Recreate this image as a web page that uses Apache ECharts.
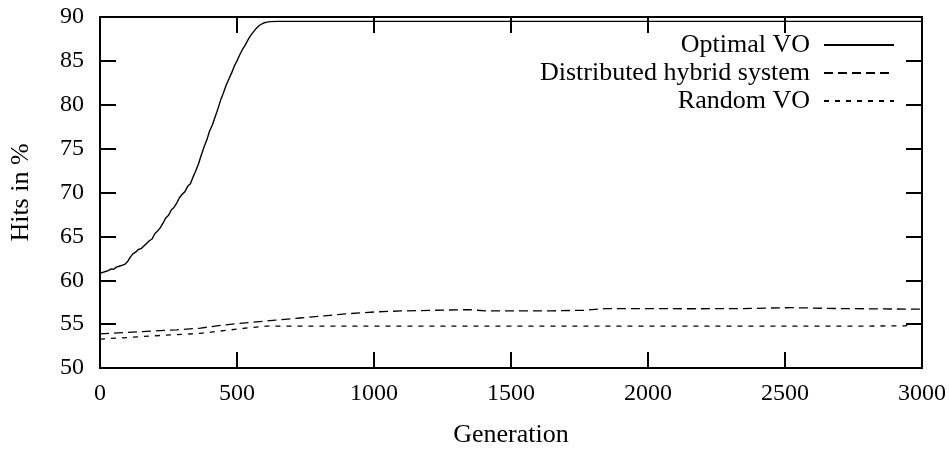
<!DOCTYPE html>
<html>
<head>
<meta charset="utf-8">
<script src="https://cdn.jsdelivr.net/npm/echarts@6/dist/echarts.min.js"></script>
<style>
html,body{margin:0;padding:0;background:#fff;}
#chart{width:949px;height:453px;}
</style>
</head>
<body>
<div id="chart"></div>
<script>
// Generation values and Hits (%) per series
const optimalGen  = [0, 10, 20, 30, 40, 50, 60, 70, 80, 90, 100, 110, 120, 130, 140, 150, 160, 170, 180, 190, 200, 210, 220, 230, 240, 250, 260, 270, 280, 290, 300, 310, 320, 330, 340, 350, 360, 370, 380, 390, 400, 410, 420, 430, 440, 450, 460, 470, 480, 490, 500, 510, 520, 530, 540, 550, 560, 570, 580, 590, 600, 610, 620, 650, 3000];
const optimalHits = [60.8, 60.9, 61.0, 61.1, 61.3, 61.25, 61.5, 61.6, 61.7, 61.8, 62.1, 62.6, 63.0, 63.2, 63.5, 63.6, 63.9, 64.2, 64.5, 64.7, 65.3, 65.6, 66.0, 66.5, 67.1, 67.4, 68.0, 68.3, 68.8, 69.4, 69.8, 70.1, 70.7, 71.0, 71.8, 72.5, 73.3, 74.3, 75.2, 76.0, 77.0, 77.7, 78.6, 79.5, 80.5, 81.3, 82.2, 82.9, 83.6, 84.4, 85.0, 85.7, 86.3, 86.8, 87.4, 87.9, 88.3, 88.7, 89.0, 89.2, 89.35, 89.42, 89.47, 89.5, 89.5];

const hybridGen  = [0, 100, 185, 280, 367, 450, 548, 640, 730, 820, 912, 1008, 1100, 1226, 1347, 1408, 1529, 1650, 1771, 1844, 2013, 2150, 2340, 2522, 2703, 3000];
const hybridHits = [53.9, 54.05, 54.2, 54.35, 54.55, 54.9, 55.2, 55.45, 55.7, 55.95, 56.2, 56.4, 56.5, 56.58, 56.65, 56.5, 56.5, 56.52, 56.58, 56.77, 56.77, 56.75, 56.77, 56.88, 56.77, 56.7];

const randomGen  = [0, 90, 185, 280, 367, 464, 548, 609, 800, 1200, 1600, 2000, 2400, 2800, 2940, 2960, 3000];
const randomHits = [53.3, 53.45, 53.65, 53.8, 53.95, 54.3, 54.6, 54.78, 54.78, 54.77, 54.78, 54.78, 54.78, 54.78, 54.8, 55.05, 55.05];

const seriesNames = ['Optimal VO', 'Distributed hybrid system', 'Random VO'];
const xTicks = [0, 500, 1000, 1500, 2000, 2500, 3000];
const yTicks = [50, 55, 60, 65, 70, 75, 80, 85, 90];

const zip = (a, b) => a.map((v, i) => [v, b[i]]);
const FONT = 'Liberation Serif';

const chart = echarts.init(document.getElementById('chart'));
const tickStyle = {show: true, inside: true, length: 16, lineStyle: {color: '#000', width: 2}};
const axisLine = {show: true, onZero: false, lineStyle: {color: '#000', width: 2}};

chart.setOption({
  backgroundColor: '#fff',
  animation: false,
  grid: {left: 96, right: 27, top: 17, bottom: 81, containLabel: false},
  legend: {
    orient: 'vertical',
    right: 54,
    top: 32,
    padding: 0,
    align: 'right',
    itemWidth: 70,
    itemHeight: 14,
    itemGap: 2,
    data: seriesNames,
    itemStyle: {opacity: 0},
    textStyle: {fontFamily: FONT, fontSize: 26, color: '#000', lineHeight: 26, padding: [0, 9, 0, 0]}
  },
  xAxis: [{
    type: 'value', min: xTicks[0], max: xTicks[xTicks.length - 1], interval: 500,
    name: 'Generation', nameLocation: 'middle', nameGap: 54,
    nameTextStyle: {fontFamily: FONT, fontSize: 26, color: '#000'},
    axisLine: axisLine, axisTick: tickStyle, splitLine: {show: false},
    axisLabel: {fontFamily: FONT, fontSize: 24, color: '#000', margin: 14, formatter: v => String(v)}
  }, {
    type: 'value', position: 'top', min: 0, max: 3000, interval: 500,
    axisLine: axisLine, axisTick: tickStyle, splitLine: {show: false}, axisLabel: {show: false}
  }],
  yAxis: [{
    type: 'value', min: yTicks[0], max: yTicks[yTicks.length - 1], interval: 5,
    name: 'Hits in %', nameLocation: 'middle', nameGap: 66,
    nameTextStyle: {fontFamily: FONT, fontSize: 26, color: '#000'},
    axisLine: axisLine, axisTick: tickStyle, splitLine: {show: false},
    axisLabel: {fontFamily: FONT, fontSize: 24, color: '#000', margin: 16, formatter: v => String(v)}
  }, {
    type: 'value', position: 'right', min: 50, max: 90, interval: 5,
    axisLine: axisLine, axisTick: tickStyle, splitLine: {show: false}, axisLabel: {show: false}
  }],
  series: [{
    name: seriesNames[0], type: 'line', symbol: 'none', data: zip(optimalGen, optimalHits),
    lineStyle: {color: '#000', width: 1.4, type: 'solid'}, itemStyle: {color: '#000'}
  }, {
    name: seriesNames[1], type: 'line', symbol: 'none', data: zip(hybridGen, hybridHits),
    lineStyle: {color: '#000', width: 1.3, type: [9, 5]}, itemStyle: {color: '#000'}
  }, {
    name: seriesNames[2], type: 'line', symbol: 'none', data: zip(randomGen, randomHits),
    lineStyle: {color: '#000', width: 1.3, type: [5, 6]}, itemStyle: {color: '#000'}
  }]
});
</script>
</body>
</html>
